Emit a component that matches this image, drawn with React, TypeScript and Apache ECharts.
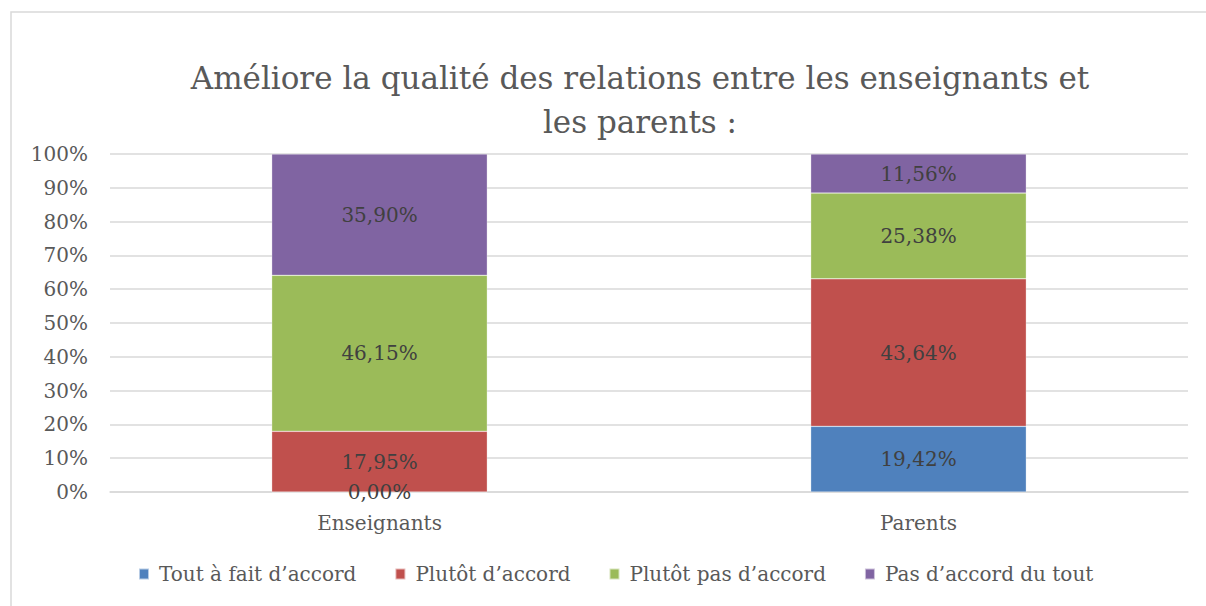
import React, { useEffect, useRef } from "react";
import * as echarts from "echarts";

const categories = ["Enseignants", "Parents"];
const seriesNames = ["Tout à fait d’accord", "Plutôt d’accord", "Plutôt pas d’accord", "Pas d’accord du tout"];
const toutAFait = [0, 19.42];
const plutot = [17.95, 43.64];
const plutotPas = [46.15, 25.38];
const pasDuTout = [35.9, 11.56];
const colors = ["#4F81BD", "#C0504D", "#9BBB59", "#8064A2"];
const titleText = "Améliore la qualité des relations entre les enseignants et\nles parents :";

const FONT = "DejaVu Serif";

export default function App() {
  const ref = useRef<HTMLDivElement>(null);
  useEffect(() => {
    document.body.style.margin = "0";
    const chart = echarts.init(ref.current!, undefined, { renderer: "svg" });
    const data = [toutAFait, plutot, plutotPas, pasDuTout];
    chart.setOption({
      animation: false,
      backgroundColor: "#ffffff",
      textStyle: { fontFamily: FONT },
      title: {
        text: titleText,
        left: 635,
        textAlign: "center",
        top: 51,
        textStyle: {
          fontFamily: FONT,
          fontSize: 31,
          fontWeight: "normal",
          color: "#595959",
          lineHeight: 44,
        },
      },
      graphic: [
        {
          type: "rect",
          shape: { x: 11, y: 12, width: 1210, height: 610 },
          style: { fill: "none", stroke: "#d9d9d9", lineWidth: 1.5 },
          silent: true,
        },
      ],
      legend: {
        bottom: 17,
        left: 133,
        itemWidth: 10,
        itemHeight: 11,
        itemGap: 38,
        icon: "rect",
        textStyle: { fontFamily: FONT, fontSize: 20, color: "#595959", padding: [0, 0, 0, 5] },
        data: seriesNames,
      },
      grid: { left: 110, right: 18, top: 154, bottom: 114 },
      xAxis: {
        type: "category",
        data: categories,
        axisLine: { lineStyle: { color: "#d9d9d9", width: 1.5 } },
        axisTick: { show: false },
        axisLabel: { fontFamily: FONT, fontSize: 20, color: "#595959", margin: 21 },
      },
      yAxis: {
        type: "value",
        min: 0,
        max: 100,
        interval: 10,
        axisLine: { show: false },
        axisTick: { show: false },
        splitLine: { lineStyle: { color: "#d9d9d9", width: 1.5 } },
        axisLabel: { formatter: "{value}%", fontFamily: FONT, fontSize: 20, color: "#595959", margin: 22 },
      },
      series: seriesNames.map((name, i) => ({
        name,
        type: "bar",
        stack: "total",
        barWidth: "40%",
        data: data[i],
        itemStyle: { color: colors[i], borderColor: "rgba(255,255,255,0.6)", borderWidth: 0.5 },
        label: {
          show: true,
          position: "inside",
          fontFamily: FONT,
          fontSize: 20,
          color: "#404040",
          formatter: (p: any) => p.value.toFixed(2).replace(".", ",") + "%",
        },
      })),
    });
    return () => chart.dispose();
  }, []);
  return <div ref={ref} style={{ position: "absolute", left: 0, top: 0, width: 1206, height: 606 }} />;
}
